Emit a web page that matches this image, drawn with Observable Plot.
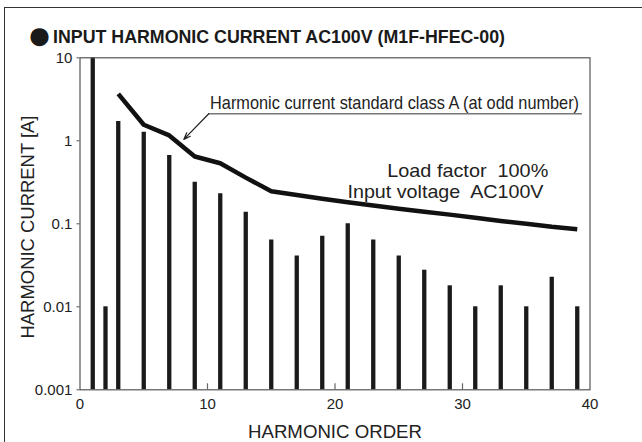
<!DOCTYPE html>
<html>
<head>
<meta charset="utf-8">
<script src="https://cdn.jsdelivr.net/npm/d3@7"></script>
<script src="https://cdn.jsdelivr.net/npm/@observablehq/plot@0.6"></script>
<style>
  html, body { margin: 0; padding: 0; background: #fff; overflow: hidden; }
  #wrap { position: relative; width: 642px; height: 442px; overflow: hidden; font-family: "Liberation Sans", Arial, sans-serif; }
  #box { position: absolute; left: 4px; top: 6.5px; width: 700px; height: 500px; border-left: 1.4px solid #333; border-top: 1.4px solid #333; }
  #title { position: absolute; left: 53px; top: 26.6px; font-size: 19px; font-weight: bold; line-height: 1; color: #1a1a1a; white-space: pre; transform-origin: 0 0; }
  #bullet { position: absolute; left: 26.8px; top: 13.6px; font-size: 42px; line-height: 1; color: #1a1a1a; }
  #chart { position: absolute; left: 0; top: 0; }
  svg text { white-space: pre; }
</style>
</head>
<body>
<div id="wrap">
  <div id="box"></div>
  <span id="bullet">●</span>
  <span id="title">INPUT HARMONIC CURRENT AC100V (M1F-HFEC-00)</span>
  <div id="chart"></div>
</div>
<script>
// ---- data ----
const harmonicOrders = [1, 2, 3, 5, 7, 9, 11, 13, 15, 17, 19, 21, 23, 25, 27, 29, 31, 33, 35, 37, 39];
const harmonicCurrent = [10, 0.01, 1.71, 1.27, 0.665, 0.317, 0.23, 0.138, 0.064, 0.041, 0.071, 0.1, 0.064, 0.041, 0.0276, 0.0179, 0.01, 0.0179, 0.01, 0.0227, 0.01];

const limitOrders = [3, 5, 7, 9, 11, 13, 15, 17, 19, 21, 23, 25, 27, 29, 31, 33, 35, 37, 39];
const limitCurrent = [3.68, 1.56, 1.16, 0.647, 0.537, 0.36, 0.247, 0.222, 0.2, 0.182, 0.166, 0.152, 0.14, 0.129, 0.118, 0.108, 0.1, 0.092, 0.086];

const xTicks = [0, 10, 20, 30, 40];
const xTickLabels = ["0", "10", "20", "30", "40"];
const innerXTicks = [10, 20, 30];
const yTicks = [0.001, 0.01, 0.1, 1, 10];
const yTickLabels = ["0.001", "0.01", "0.1", "1", "10"];

const xTitle = "HARMONIC ORDER";
const yTitle = "HARMONIC CURRENT [A]";
const noteStandard = "Harmonic current standard class A (at odd number)";
const noteLoad = "Load factor  100%";
const noteVoltage = "Input voltage  AC100V";

// ---- tables built from the arrays ----
const bars = harmonicOrders.map((o, i) => ({order: o, value: harmonicCurrent[i]}));
const limit = limitOrders.map((o, i) => ({order: o, value: limitCurrent[i]}));

const fontFamily = '"Liberation Sans", Arial, sans-serif';

const chart = Plot.plot({
  width: 642,
  height: 442,
  marginLeft: 79.5,
  marginRight: 52.5,
  marginTop: 57.3,
  marginBottom: 52.7,
  style: {fontFamily, fontSize: "15px", color: "#222", background: "transparent", overflow: "visible"},
  x: {type: "linear", domain: [0, 40]},
  y: {type: "log", domain: [0.001, 10]},
  marks: [
    Plot.ruleX(bars, {x: "order", y1: 0.001, y2: "value", stroke: "#1a1a1a", strokeWidth: 4.3}),
    Plot.line(limit, {x: "order", y: "value", stroke: "#111", strokeWidth: 4.5, strokeLinejoin: "round", strokeLinecap: "butt"}),
    Plot.frame({stroke: "#555", strokeWidth: 1.2}),
    Plot.tickX(innerXTicks, {x: d => d, insetTop: 326, stroke: "#666", strokeWidth: 1.2}),
    Plot.axisY({ticks: yTicks, tickFormat: d => yTickLabels[yTicks.indexOf(d)], tickSize: 3, tickPadding: 4.6, label: null, fontSize: 15, stroke: "#555"}),
    Plot.axisX({ticks: xTicks, tickFormat: d => xTickLabels[xTicks.indexOf(d)], tickSize: 0, tickPadding: 9, label: null, fontSize: 15}),
    Plot.text([xTitle], {frameAnchor: "bottom", dy: 48, lineAnchor: "bottom", textAnchor: "middle", fontSize: 18.5, fill: "#222"}),
    Plot.text([yTitle], {frameAnchor: "left", rotate: -90, dx: -52, dy: 3.2, lineAnchor: "middle", textAnchor: "middle", fontSize: 18.5, fill: "#222"}),
    // annotation: standard curve label, underline and leader arrow
    Plot.ruleY([2.12], {x1: 10.1, x2: 39.4, stroke: "#777", strokeWidth: 1.5}),
    Plot.arrow([0], {x1: 10.1, y1: 2.12, x2: 8.14, y2: 1.04, stroke: "#222", strokeWidth: 1.2, headLength: 9, headAngle: 40}),
    Plot.text([noteStandard], {x: 10.2, y: 2.43, textAnchor: "start", lineAnchor: "bottom", fontSize: 18.5, fill: "#222"}),
    Plot.text([noteLoad], {x: 24.1, y: 0.371, textAnchor: "start", lineAnchor: "bottom", fontSize: 18.5, fill: "#222"}),
    Plot.text([noteVoltage], {x: 20.98, y: 0.203, textAnchor: "start", lineAnchor: "bottom", fontSize: 18.5, fill: "#222"})
  ]
});
document.getElementById("chart").appendChild(chart);

// fit text widths to the (condensed) lettering of the reference
const widths = new Map([
  [noteStandard, 369],
  [noteLoad, 161],
  [noteVoltage, 196],
  [yTitle, 223],
  [xTitle, 174]
]);
chart.querySelectorAll("text").forEach(t => {
  const w = widths.get(t.textContent);
  if (w) {
    t.setAttribute("textLength", w);
    t.setAttribute("lengthAdjust", "spacingAndGlyphs");
  }
});
const title = document.getElementById("title");
const tw = title.getBoundingClientRect().width;
title.style.transform = `scaleX(${452 / tw})`;
</script>
</body>
</html>
